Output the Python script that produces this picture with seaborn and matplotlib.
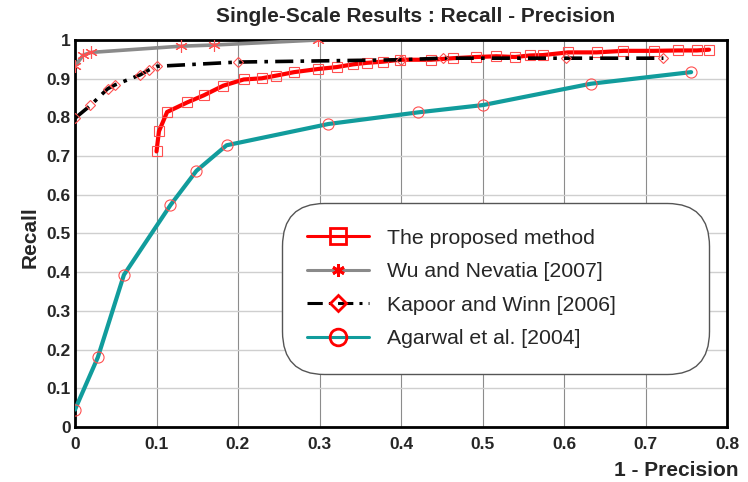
import matplotlib
matplotlib.use("Agg")
import matplotlib.pyplot as plt
import seaborn as sns
import pandas as pd

# values
proposed_x = [0.100, 0.103, 0.113, 0.138, 0.158, 0.182, 0.207, 0.229, 0.247, 0.269,
              0.298, 0.321, 0.341, 0.358, 0.378, 0.399, 0.437, 0.464, 0.492, 0.517,
              0.540, 0.558, 0.574, 0.605, 0.640, 0.673, 0.710, 0.740, 0.763, 0.778]
proposed_y = [0.712, 0.764, 0.814, 0.839, 0.857, 0.882, 0.898, 0.901, 0.908, 0.917,
              0.925, 0.930, 0.937, 0.941, 0.944, 0.949, 0.949, 0.953, 0.956, 0.958,
              0.956, 0.960, 0.961, 0.968, 0.968, 0.972, 0.972, 0.973, 0.973, 0.975]

wu_x = [0.0, 0.010, 0.020, 0.130, 0.170, 0.298]
wu_y = [0.932, 0.961, 0.968, 0.984, 0.987, 1.0]

kapoor_x = [0.0, 0.019, 0.040, 0.049, 0.080, 0.091, 0.100, 0.200, 0.400, 0.452, 0.603, 0.722]
kapoor_y = [0.798, 0.831, 0.874, 0.884, 0.910, 0.923, 0.932, 0.943, 0.949, 0.953, 0.953, 0.953]

agarwal_x = [0.0, 0.028, 0.060, 0.117, 0.149, 0.186, 0.311, 0.421, 0.501, 0.633, 0.756]
agarwal_y = [0.045, 0.180, 0.393, 0.573, 0.662, 0.728, 0.783, 0.813, 0.832, 0.887, 0.917]

labels = ["The proposed method", "Wu and Nevatia [2007]",
          "Kapoor and Winn [2006]", "Agarwal et al. [2004]"]

x_ticks = [0, 0.1, 0.2, 0.3, 0.4, 0.5, 0.6, 0.7, 0.8]
x_tick_labels = ["0", "0.1", "0.2", "0.3", "0.4", "0.5", "0.6", "0.7", "0.8"]
y_ticks = [0, 0.1, 0.2, 0.3, 0.4, 0.5, 0.6, 0.7, 0.8, 0.9, 1.0]
y_tick_labels = ["0", "0.1", "0.2", "0.3", "0.4", "0.5", "0.6", "0.7", "0.8", "0.9", "1"]

sns.set_style("white")
plt.rcParams["font.family"] = ["Liberation Sans", "DejaVu Sans"]

fig = plt.figure(figsize=(7.48, 4.82), dpi=100)
ax = fig.add_axes([75 / 748, 1 - 427 / 482, 652 / 748, 387 / 482])

asterisk = (6, 2, 0)
series = [
    (proposed_x, proposed_y, labels[0], "#ff0000", "-", 3.0, "s", 7),
    (wu_x, wu_y, labels[1], "#8a8a8a", "-", 2.6, asterisk, 9),
    (kapoor_x, kapoor_y, labels[2], "#000000", (0, (5, 2, 1, 2)), 2.6, "D", 5),
    (agarwal_x, agarwal_y, labels[3], "#119c9c", "-", 3.0, "o", 8),
]

for xs, ys, lab, col, ls, lw, mk, ms in series:
    df = pd.DataFrame({"x": xs, "y": ys})
    sns.lineplot(data=df, x="x", y="y", ax=ax, sort=False, estimator=None,
                 color=col, linestyle=ls, linewidth=lw, label=lab,
                 marker=mk, markersize=ms,
                 markerfacecolor="none", markeredgecolor="#ff5050",
                 markeredgewidth=0.8, zorder=3)

ax.set_xlim(0, 0.8)
ax.set_ylim(0, 1)
ax.set_xticks(x_ticks)
ax.set_xticklabels(x_tick_labels)
ax.set_yticks(y_ticks)
ax.set_yticklabels(y_tick_labels)
ax.tick_params(axis="both", labelsize=12.5, length=0)
ax.tick_params(axis="x", pad=7)
ax.tick_params(axis="y", pad=3)
for t in ax.get_xticklabels() + ax.get_yticklabels():
    t.set_fontweight("bold")

ax.xaxis.grid(True, color="#8c8c8c", linewidth=0.8)
ax.yaxis.grid(True, color="#cfcfcf", linewidth=1.0)
ax.set_axisbelow(True)
for sp in ax.spines.values():
    sp.set_color("black")
    sp.set_linewidth(2)
    sp.set_visible(True)

ax.set_xlabel("")
ax.set_ylabel("")
fig.text(738 / 748, 1 - 470 / 482, "1 - Precision", ha="right", va="center",
         fontsize=15, fontweight="bold")
fig.text(30 / 748, 1 - 237 / 482, "Recall", ha="center", va="center",
         rotation=90, fontsize=15, fontweight="bold")
fig.text(416 / 748, 1 - 17 / 482, "Single-Scale Results : Recall - Precision",
         ha="center", va="center", fontsize=15, fontweight="bold")

leg = ax.legend(loc="upper left", bbox_to_anchor=(0.325, 0.149, 0.64, 0.415),
                mode="expand", fontsize=15.3, frameon=True, fancybox=True,
                handlelength=2.9, handletextpad=0.85, labelspacing=0.68,
                borderpad=0.95, borderaxespad=0, edgecolor="#555555")
leg.get_frame().set_boxstyle("round,pad=0.25,rounding_size=2.0")
leg.get_frame().set_linewidth(1.0)
leg.get_frame().set_alpha(1)
for h in leg.get_lines():
    h.set_markeredgecolor("#ff0000")
    h.set_markeredgewidth(2)
    mk = h.get_marker()
    h.set_markersize(12 if mk in ("s", "o") else (8 if mk == "D" else 9))
    h.set_linewidth(2.2)

fig.savefig("out.png", dpi=100)
